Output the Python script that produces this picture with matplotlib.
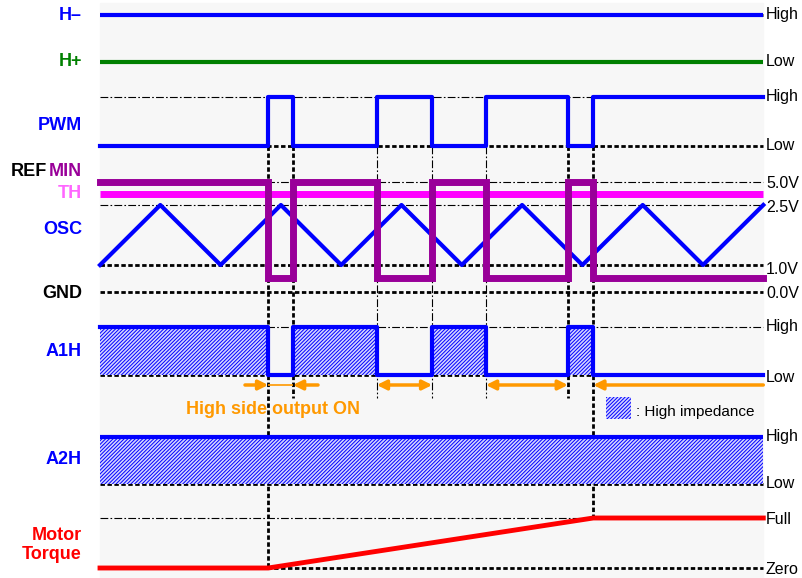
import matplotlib.pyplot as plt
import matplotlib.patches as mpatches

plt.rcParams['font.family'] = ['Liberation Sans', 'DejaVu Sans']
plt.rcParams['hatch.linewidth'] = 0.7

# ---- data (time unit = half OSC period) ----
t_end = 11
pwm_t = [0, 2.79, 3.20, 4.59, 5.51, 6.40, 7.76, 8.18, 11]
pwm_v = [0, 1, 0, 1, 0, 1, 0, 1, 1]          # 0 = Low, 1 = High
refmin_v = [1 - v for v in pwm_v]            # 1 = 5.0V, 0 = low
a1h_v = [1 - v for v in pwm_v]               # 1 = High (high impedance)
osc_t = [0, 1, 2, 3, 4, 5, 6, 7, 8, 9, 10, 11]
osc_v = [1.0, 2.5, 1.0, 2.5, 1.0, 2.5, 1.0, 2.5, 1.0, 2.5, 1.0, 2.5]
torque_t = [0, 2.79, 8.18, 11]
torque_v = [0, 0, 1, 1]                      # 0 = Zero, 1 = Full

left_labels = ['H\u2013', 'H+', 'PWM', 'TH', 'OSC', 'GND', 'A1H', 'A2H', 'Motor\nTorque']
right_labels = ['High', 'Low', 'High', 'Low', '5.0V', '2.5V', '1.0V', '0.0V',
                'High', 'Low', 'High', 'Low', 'Full', 'Zero']

# ---- layout (pixel rows) ----
BLUE, GREEN, RED = '#0000ff', '#008000', '#ff0000'
PURPLE, MAGENTA, ORANGE = '#990099', '#ff00ff', '#ff9900'
HATCH_BG = '#d4d4ff'
PX0, PXT = 100, 60.3
Y_H_MINUS, Y_H_PLUS = 15, 62
Y_PWM_HI, Y_PWM_LO = 97, 146
Y_5V, Y_TH, Y_25V, Y_1V, Y_REF_LO, Y_0V = 182, 194, 205, 265, 278, 292
Y_A1_HI, Y_A1_LO = 327, 375
Y_A2_HI, Y_A2_LO = 437, 484
Y_FULL, Y_ZERO = 518, 568
Y_ARROW = 385

def tx(px):
    return (px - PX0) / PXT

fig = plt.figure(figsize=(8.03, 5.78), dpi=100)
ax = fig.add_axes([0, 0, 1, 1])
ax.set_xlim(tx(0), tx(803))
ax.set_ylim(578, 0)
ax.axis('off')

ax.add_patch(mpatches.Rectangle((0, 3), t_end, 575, color='#f7f7f7', zorder=0))

thin = dict(color='black', lw=0.8, ls=(0, (7, 2, 1.5, 2)), zorder=1)
thick = dict(color='black', lw=2.0, ls=(0, (1.6, 0.9)), zorder=1)

for y in [Y_PWM_HI, Y_5V, Y_25V, Y_A1_HI, Y_FULL]:
    ax.hlines(y, 0, t_end, **thin)
for y in [Y_H_MINUS, Y_PWM_LO, Y_1V, Y_0V, Y_A1_LO, Y_A2_LO, Y_ZERO]:
    ax.hlines(y, 0, t_end, **thick)

# vertical markers at PWM edges
e = pwm_t[1:8]
ax.vlines(e[0], Y_PWM_LO, Y_ZERO, **thick)
ax.vlines([e[1], e[5]], Y_PWM_LO, 398, **thick)
ax.vlines(e[6], Y_PWM_LO, Y_FULL, **thick)
ax.vlines([e[2], e[3], e[4]], Y_PWM_LO, 398, **thin)

def level(vals, lo, hi):
    return [lo + v * (hi - lo) for v in vals]

def hatch_box(x, y, w, h):
    ax.add_patch(mpatches.Rectangle((x, y), w, h, facecolor=HATCH_BG, edgecolor=BLUE,
                                    hatch='/////////', lw=0, zorder=2))

# H-, H+
ax.hlines(Y_H_MINUS, 0, t_end, color=BLUE, lw=3, zorder=3)
ax.hlines(Y_H_PLUS, 0, t_end, color=GREEN, lw=3, zorder=3)

# PWM
ax.step(pwm_t, level(pwm_v, Y_PWM_LO, Y_PWM_HI), where='post', color=BLUE, lw=3, zorder=3)

# TH, OSC, REFMIN
ax.hlines(Y_TH, 0, t_end, color=MAGENTA, lw=5, zorder=3)
ax.plot(osc_t, [Y_1V + (v - 1.0) / 1.5 * (Y_25V - Y_1V) for v in osc_v],
        color=BLUE, lw=3, zorder=4)
ax.step(pwm_t, level(refmin_v, Y_REF_LO, Y_5V), where='post', color=PURPLE, lw=5,
        zorder=5, solid_joinstyle='miter')

# A1H with high-impedance hatching
for i in range(len(pwm_t) - 1):
    if a1h_v[i] == 1:
        hatch_box(pwm_t[i], Y_A1_HI, pwm_t[i + 1] - pwm_t[i], Y_A1_LO - Y_A1_HI)
ax.step(pwm_t, level(a1h_v, Y_A1_LO, Y_A1_HI), where='post', color=BLUE, lw=3, zorder=3)

# A2H all high impedance
hatch_box(0, Y_A2_HI, t_end, Y_A2_LO - Y_A2_HI)
ax.hlines(Y_A2_HI, 0, t_end, color=BLUE, lw=3, zorder=3)

# Motor torque
ax.plot(torque_t, level(torque_v, Y_ZERO, Y_FULL), color=RED, lw=3.5, zorder=3)

# orange arrows: high side output ON
ap = dict(color=ORANGE, lw=2.5, shrinkA=0, shrinkB=0, mutation_scale=14)
ax.annotate('', xy=(e[0], Y_ARROW), xytext=(tx(245), Y_ARROW), arrowprops=dict(arrowstyle='-|>', **ap))
ax.annotate('', xy=(e[1], Y_ARROW), xytext=(tx(318), Y_ARROW), arrowprops=dict(arrowstyle='-|>', **ap))
ax.hlines(Y_ARROW, e[0], e[1], color=ORANGE, lw=1.2)
ax.annotate('', xy=(e[2], Y_ARROW), xytext=(e[3], Y_ARROW), arrowprops=dict(arrowstyle='<|-|>', **ap))
ax.annotate('', xy=(e[4], Y_ARROW), xytext=(e[5], Y_ARROW), arrowprops=dict(arrowstyle='<|-|>', **ap))
ax.annotate('', xy=(e[6], Y_ARROW), xytext=(t_end, Y_ARROW), arrowprops=dict(arrowstyle='-|>', **ap))
ax.text(tx(273), 410, 'High side output ON', color=ORANGE, fontsize=13, fontweight='bold',
        ha='center', va='center')

# legend for hatching
hatch_box(tx(606), 397, tx(631) - tx(606), 22)
ax.text(tx(636), 412, ': High impedance', fontsize=11, ha='left', va='center')

# left labels
lx = tx(82)
left_y = [15, 62, 125, 194, 230, 293, 352, 460, 545]
left_c = [BLUE, GREEN, BLUE, '#ff66ff', BLUE, 'black', BLUE, BLUE, RED]
for s, y, c in zip(left_labels, left_y, left_c):
    ax.text(lx, y, s, color=c, fontsize=13, fontweight='bold', ha='right', va='center',
            linespacing=1.1)
ax.text(tx(47), 172, 'REF', color='black', fontsize=13, fontweight='bold', ha='right', va='center')
ax.text(lx, 172, 'MIN', color=PURPLE, fontsize=13, fontweight='bold', ha='right', va='center')

# right labels
right_y = [Y_H_MINUS, Y_H_PLUS, Y_PWM_HI, Y_PWM_LO, 184, Y_25V + 3, Y_1V + 4, Y_0V + 2,
           Y_A1_HI, Y_A1_LO + 2, Y_A2_HI, Y_A2_LO, Y_FULL + 2, Y_ZERO + 2]
for s, y in zip(right_labels, right_y):
    ax.text(tx(766), y, s, fontsize=11.5, ha='left', va='center')

fig.savefig('out.png', dpi=100, facecolor='white')
